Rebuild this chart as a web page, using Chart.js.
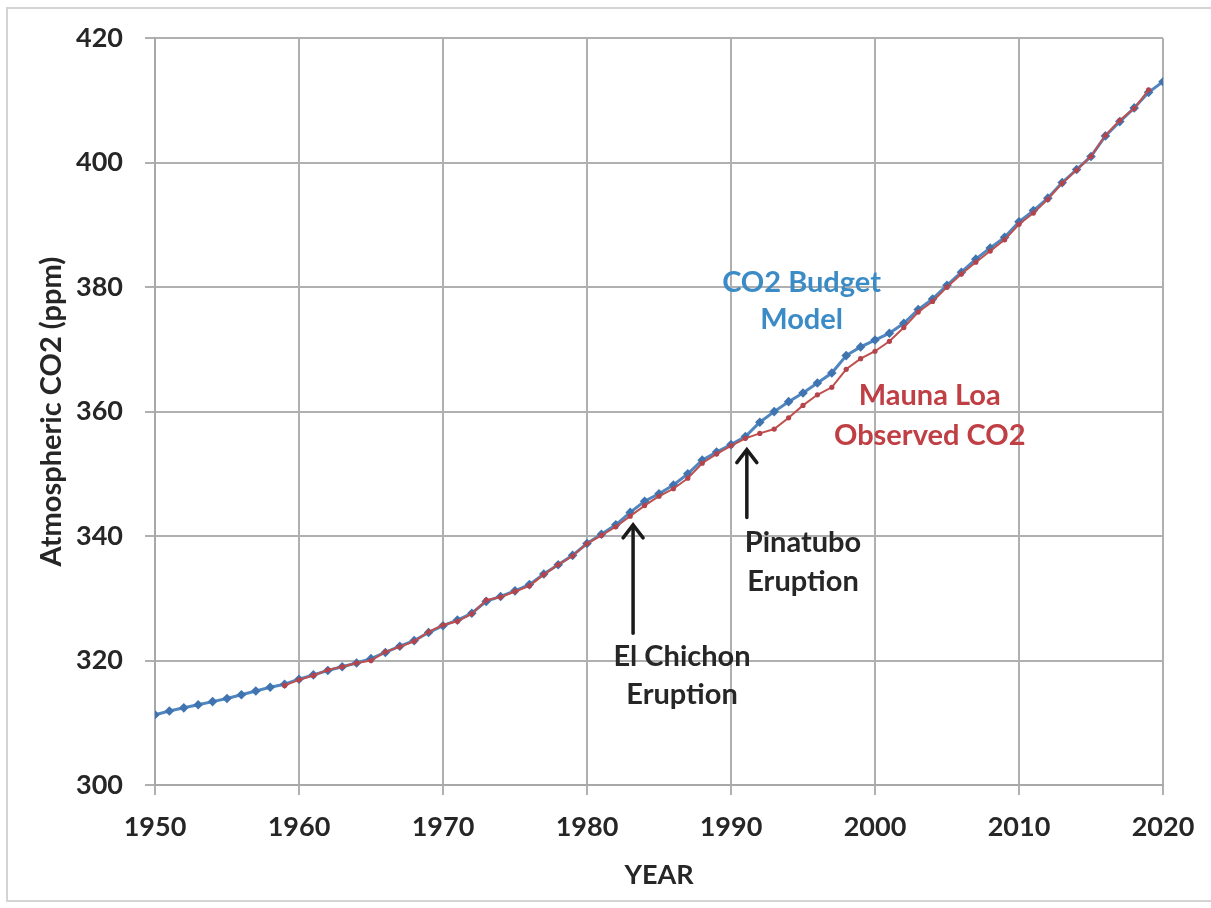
<!DOCTYPE html>
<html>
<head>
<meta charset="utf-8">
<script src="https://cdn.jsdelivr.net/npm/chart.js@4.4.0/dist/chart.umd.min.js"></script>
<style>
  html,body{margin:0;padding:0;background:#fff;}
  #wrap{position:relative;width:1211px;height:908px;}
  #frame{position:absolute;left:6px;top:7px;width:1205px;height:895px;border:2px solid #d4d4d4;border-right:none;box-sizing:border-box;pointer-events:none;}
  canvas{position:absolute;left:0;top:0;}
</style>
</head>
<body>
<div id="wrap">
<canvas id="c" width="1211" height="908"></canvas>
<div id="frame"></div>
</div>
<script>
// ---- data ----
const modelYears = [1950,1951,1952,1953,1954,1955,1956,1957,1958,1959,1960,1961,1962,1963,1964,1965,1966,1967,1968,1969,1970,1971,1972,1973,1974,1975,1976,1977,1978,1979,1980,1981,1982,1983,1984,1985,1986,1987,1988,1989,1990,1991,1992,1993,1994,1995,1996,1997,1998,1999,2000,2001,2002,2003,2004,2005,2006,2007,2008,2009,2010,2011,2012,2013,2014,2015,2016,2017,2018,2019,2020];
const modelCO2 = [311.3,311.9,312.4,312.9,313.4,313.9,314.5,315.1,315.7,316.2,317.0,317.7,318.4,319.0,319.6,320.3,321.3,322.3,323.2,324.5,325.6,326.5,327.6,329.5,330.3,331.2,332.2,333.9,335.4,336.9,338.8,340.3,341.8,343.8,345.6,346.8,348.2,350.0,352.2,353.5,354.7,356.0,358.3,360.0,361.6,363.0,364.6,366.2,369.0,370.4,371.5,372.6,374.2,376.4,378.1,380.3,382.4,384.5,386.3,388.0,390.5,392.3,394.3,396.8,398.9,401.0,404.3,406.6,408.8,411.3,413.0];
const obsYears = [1959,1960,1961,1962,1963,1964,1965,1966,1967,1968,1969,1970,1971,1972,1973,1974,1975,1976,1977,1978,1979,1980,1981,1982,1983,1984,1985,1986,1987,1988,1989,1990,1991,1992,1993,1994,1995,1996,1997,1998,1999,2000,2001,2002,2003,2004,2005,2006,2007,2008,2009,2010,2011,2012,2013,2014,2015,2016,2017,2018,2019];
const obsCO2 = [316.0,316.9,317.6,318.5,319.0,319.6,320.0,321.4,322.2,323.1,324.6,325.7,326.3,327.5,329.7,330.2,331.1,332.0,333.8,335.4,336.8,338.8,340.1,341.5,343.2,344.9,346.4,347.6,349.3,351.7,353.2,354.5,355.7,356.5,357.2,359.0,361.0,362.7,363.9,366.8,368.5,369.7,371.3,373.5,376.0,377.7,380.0,382.1,384.0,385.8,387.6,390.1,391.9,394.1,396.7,398.8,401.0,404.4,406.8,408.7,411.7];
const xTicks = [1950,1960,1970,1980,1990,2000,2010,2020];
const yTicks = [300,320,340,360,380,400,420];
const seriesNames = ['CO2 Budget Model','Mauna Loa Observed CO2'];

// annotations (text anchored in data coordinates)
const notes = [
  {lines:['CO2 Budget','Model'], year:1994.9, ppm:[380.8,374.7], color:'#3b8bc6'},
  {lines:['Mauna Loa','Observed CO2'], year:2003.8, ppm:[362.6,356.2], color:'#bf3f44'},
  {lines:['Pinatubo','Eruption'], year:1995.0, ppm:[338.9,332.6], color:'#262626'},
  {lines:['El Chichon','Eruption'], year:1986.6, ppm:[320.6,314.5], color:'#262626'}
];
const arrows = [
  {year:1983.2, from:324.4, to:341.8},
  {year:1991.1, from:343.0, to:353.9}
];

const FONT = 'Lato, "Open Sans", sans-serif';

const annoPlugin = {
  id:'anno',
  afterDatasetsDraw(chart){
    const {ctx, scales:{x,y}} = chart;
    ctx.save();
    ctx.font = 'bold 29px ' + FONT;
    ctx.textAlign = 'center';
    ctx.textBaseline = 'middle';
    notes.forEach(n=>{
      ctx.fillStyle = n.color;
      n.lines.forEach((t,i)=>{
        ctx.fillText(t, x.getPixelForValue(n.year), y.getPixelForValue(n.ppm[i]));
      });
    });
    ctx.strokeStyle = '#1a1a1a';
    ctx.lineWidth = 3.5;
    ctx.lineCap = 'round';
    arrows.forEach(a=>{
      const px = x.getPixelForValue(a.year);
      const y0 = y.getPixelForValue(a.from), y1 = y.getPixelForValue(a.to);
      ctx.beginPath();
      ctx.moveTo(px,y0); ctx.lineTo(px,y1+2);
      ctx.stroke();
      ctx.beginPath();
      ctx.moveTo(px-10,y1+13); ctx.lineTo(px,y1); ctx.lineTo(px+10,y1+13);
      ctx.stroke();
    });
    ctx.restore();
  }
};

new Chart(document.getElementById('c'), {
  type:'line',
  data:{
    datasets:[
      {
        label:seriesNames[1],
        data:obsYears.map((yr,i)=>({x:yr,y:obsCO2[i]})),
        borderColor:'#c0504d',
        backgroundColor:'#b5434b',
        borderWidth:2,
        pointRadius:2.6,
        pointStyle:'circle',
        pointBorderWidth:0,
        tension:0,
        order:0
      },
      {
        label:seriesNames[0],
        data:modelYears.map((yr,i)=>({x:yr,y:modelCO2[i]})),
        borderColor:'#4f86c0',
        backgroundColor:'#3f74b0',
        borderWidth:3,
        pointRadius:4.8,
        pointStyle:'rectRot',
        pointBorderWidth:0,
        tension:0,
        order:1
      }
    ]
  },
  options:{
    responsive:false,
    animation:false,
    devicePixelRatio:1,
    layout:{padding:{left:30,top:38,right:48,bottom:13}},
    plugins:{legend:{display:false},tooltip:{enabled:false}},
    scales:{
      x:{
        type:'linear', min:1950, max:2020,
        afterBuildTicks(s){ s.ticks = xTicks.map(v=>({value:v})); },
        afterFit(s){ s.height = 110; },
        grid:{color:'#b0b0b0', lineWidth:2, tickLength:10, drawTicks:true},
        border:{color:'#a8a8a8', width:2},
        ticks:{font:{family:FONT, size:27, weight:'bold'}, color:'#262626', padding:16, maxRotation:0, callback:v=>String(v)},
        title:{display:true, text:'YEAR', font:{family:FONT, size:27, weight:'bold'}, color:'#262626', padding:{top:4,bottom:4}}
      },
      y:{
        type:'linear', min:300, max:420,
        afterBuildTicks(s){ s.ticks = yTicks.map(v=>({value:v})); },
        afterFit(s){ s.width = 125; },
        grid:{color:'#b0b0b0', lineWidth:2, tickLength:10, drawTicks:true},
        border:{color:'#a8a8a8', width:2},
        ticks:{font:{family:FONT, size:27, weight:'bold'}, color:'#262626', padding:22, callback:v=>String(v)},
        title:{display:true, text:'Atmospheric CO2 (ppm)', font:{family:FONT, size:29, weight:'bold'}, color:'#262626', padding:{top:4,bottom:4}}
      }
    }
  },
  plugins:[annoPlugin]
});
</script>
</body>
</html>
